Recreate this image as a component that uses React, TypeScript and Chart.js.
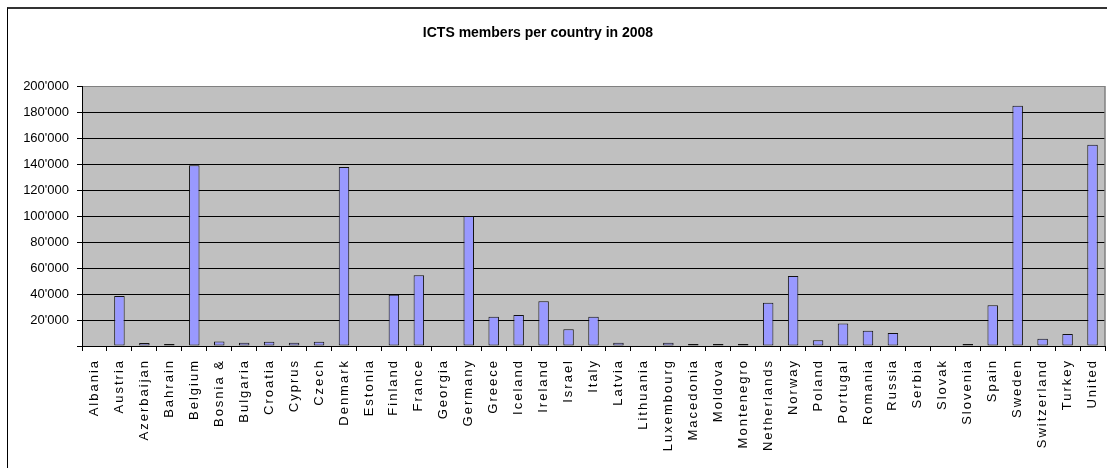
import { useEffect, useRef } from "react";
import { Chart, registerables } from "chart.js";

Chart.register(...registerables);

const chartTitle = "ICTS members per country in 2008";

const countries = [
  "Albania", "Austria", "Azerbaijan", "Bahrain", "Belgium", "Bosnia &", "Bulgaria", "Croatia",
  "Cyprus", "Czech", "Denmark", "Estonia", "Finland", "France", "Georgia", "Germany", "Greece",
  "Iceland", "Ireland", "Israel", "Italy", "Latvia", "Lithuania", "Luxembourg", "Macedonia",
  "Moldova", "Montenegro", "Netherlands", "Norway", "Poland", "Portugal", "Romania", "Russia",
  "Serbia", "Slovak", "Slovenia", "Spain", "Sweden", "Switzerland", "Turkey", "United",
];

const members = [
  0, 38500, 2300, 1500, 139000, 3500, 2500, 3300,
  2500, 3300, 137700, 0, 39500, 54500, 0, 100000, 22500,
  23800, 34400, 12800, 22500, 2500, 0, 2500, 1500,
  1500, 1500, 33300, 53800, 4400, 17400, 11800, 10000,
  0, 0, 1500, 31300, 184900, 5600, 9200, 154900,
];

const yTickValues = [0, 20000, 40000, 60000, 80000, 100000, 120000, 140000, 160000, 180000, 200000];

const FONT = "'Liberation Sans', Arial, sans-serif";

function formatThousands(v: number): string {
  if (v === 0) return "";
  return String(v).replace(/\B(?=(\d{3})+(?!\d))/g, "'");
}

const plotPlugin = {
  id: "plotDecor",
  beforeDraw(chart: any) {
    const { ctx, chartArea } = chart;
    ctx.save();
    ctx.fillStyle = "#C0C0C0";
    ctx.fillRect(chartArea.left, chartArea.top, chartArea.right - chartArea.left, chartArea.bottom - chartArea.top);
    ctx.restore();
    const xs = chart.scales.x;
    if (xs && !xs.__spaced) {
      const orig = xs.drawLabels;
      xs.drawLabels = function (area: any) {
        const c = this.ctx;
        const prev = c.letterSpacing;
        c.letterSpacing = "2px";
        orig.call(this, area);
        c.letterSpacing = prev;
      };
      xs.__spaced = true;
    }
  },
  beforeDatasetsDraw(chart: any) {
    const { ctx, chartArea } = chart;
    ctx.save();
    ctx.strokeStyle = "#808080";
    ctx.lineWidth = 1.5;
    ctx.beginPath();
    ctx.moveTo(chartArea.right, chartArea.top);
    ctx.lineTo(chartArea.right, chartArea.bottom);
    ctx.stroke();
    ctx.restore();
  },
  afterDraw(chart: any) {
    const { ctx } = chart;
    ctx.save();
    ctx.font = `bold 14px ${FONT}`;
    ctx.fillStyle = "#000";
    ctx.textAlign = "center";
    ctx.textBaseline = "alphabetic";
    ctx.fillText(chartTitle, 538, 37);
    ctx.restore();
  },
};

export default function App() {
  const ref = useRef<HTMLCanvasElement>(null);

  useEffect(() => {
    const canvas = ref.current!;
    const chart = new Chart(canvas, {
      type: "bar",
      data: {
        labels: countries,
        datasets: [
          {
            data: members,
            backgroundColor: "#9999FF",
            borderColor: "#111",
            borderWidth: (c: any) => (c.raw ? 1 : 0),
            borderSkipped: false,
            categoryPercentage: 1,
            barPercentage: 0.42,
          },
        ],
      },
      options: {
        responsive: false,
        animation: false,
        devicePixelRatio: 1,
        layout: { padding: { top: 86, left: 0, right: 2, bottom: 0 } },
        plugins: {
          legend: { display: false },
          tooltip: { enabled: false },
          title: { display: false },
        },
        scales: {
          x: {
            offset: true,
            grid: {
              offset: true,
              drawOnChartArea: false,
              drawTicks: true,
              tickLength: 5,
              tickColor: "#000",
            },
            border: { color: "#000", width: 1 },
            ticks: {
              autoSkip: false,
              minRotation: 90,
              maxRotation: 90,
              padding: 8,
              color: "#000",
              font: { family: FONT, size: 13 },
            },
            afterFit: (s: any) => {
              s.height = 122;
              s.paddingLeft = 0;
              s.paddingRight = 0;
            },
          },
          y: {
            min: 0,
            max: 200000,
            grid: {
              color: (c: any) => (c.tick && c.tick.value === 200000 ? "#808080" : "#000"),
              tickColor: "#000",
              tickLength: 5,
              lineWidth: 1,
            },
            border: { color: "#000", width: 1 },
            ticks: {
              padding: 8,
              color: "#000",
              font: { family: FONT, size: 13 },
              callback: (v: any) => formatThousands(Number(v)),
            },
            afterBuildTicks: (s: any) => {
              s.ticks = yTickValues.map((v) => ({ value: v }));
            },
            afterFit: (s: any) => {
              s.width = 82;
              s.paddingTop = 0;
              s.paddingBottom = 0;
            },
          },
        },
      },
      plugins: [plotPlugin],
    } as any);
    return () => chart.destroy();
  }, []);

  return (
    <div
      style={{
        position: "absolute",
        left: 0,
        top: 0,
        width: 1107,
        height: 468,
        overflow: "hidden",
        background: "#fff",
      }}
    >
      <div
        style={{
          position: "absolute",
          left: 7,
          top: 7,
          right: -10,
          bottom: -10,
          borderLeft: "1px solid #000",
          borderTop: "2px solid #333",
        }}
      />
      <canvas
        ref={ref}
        width={1107}
        height={468}
        style={{ position: "absolute", left: 0, top: 0, width: 1107, height: 468 }}
      />
    </div>
  );
}
